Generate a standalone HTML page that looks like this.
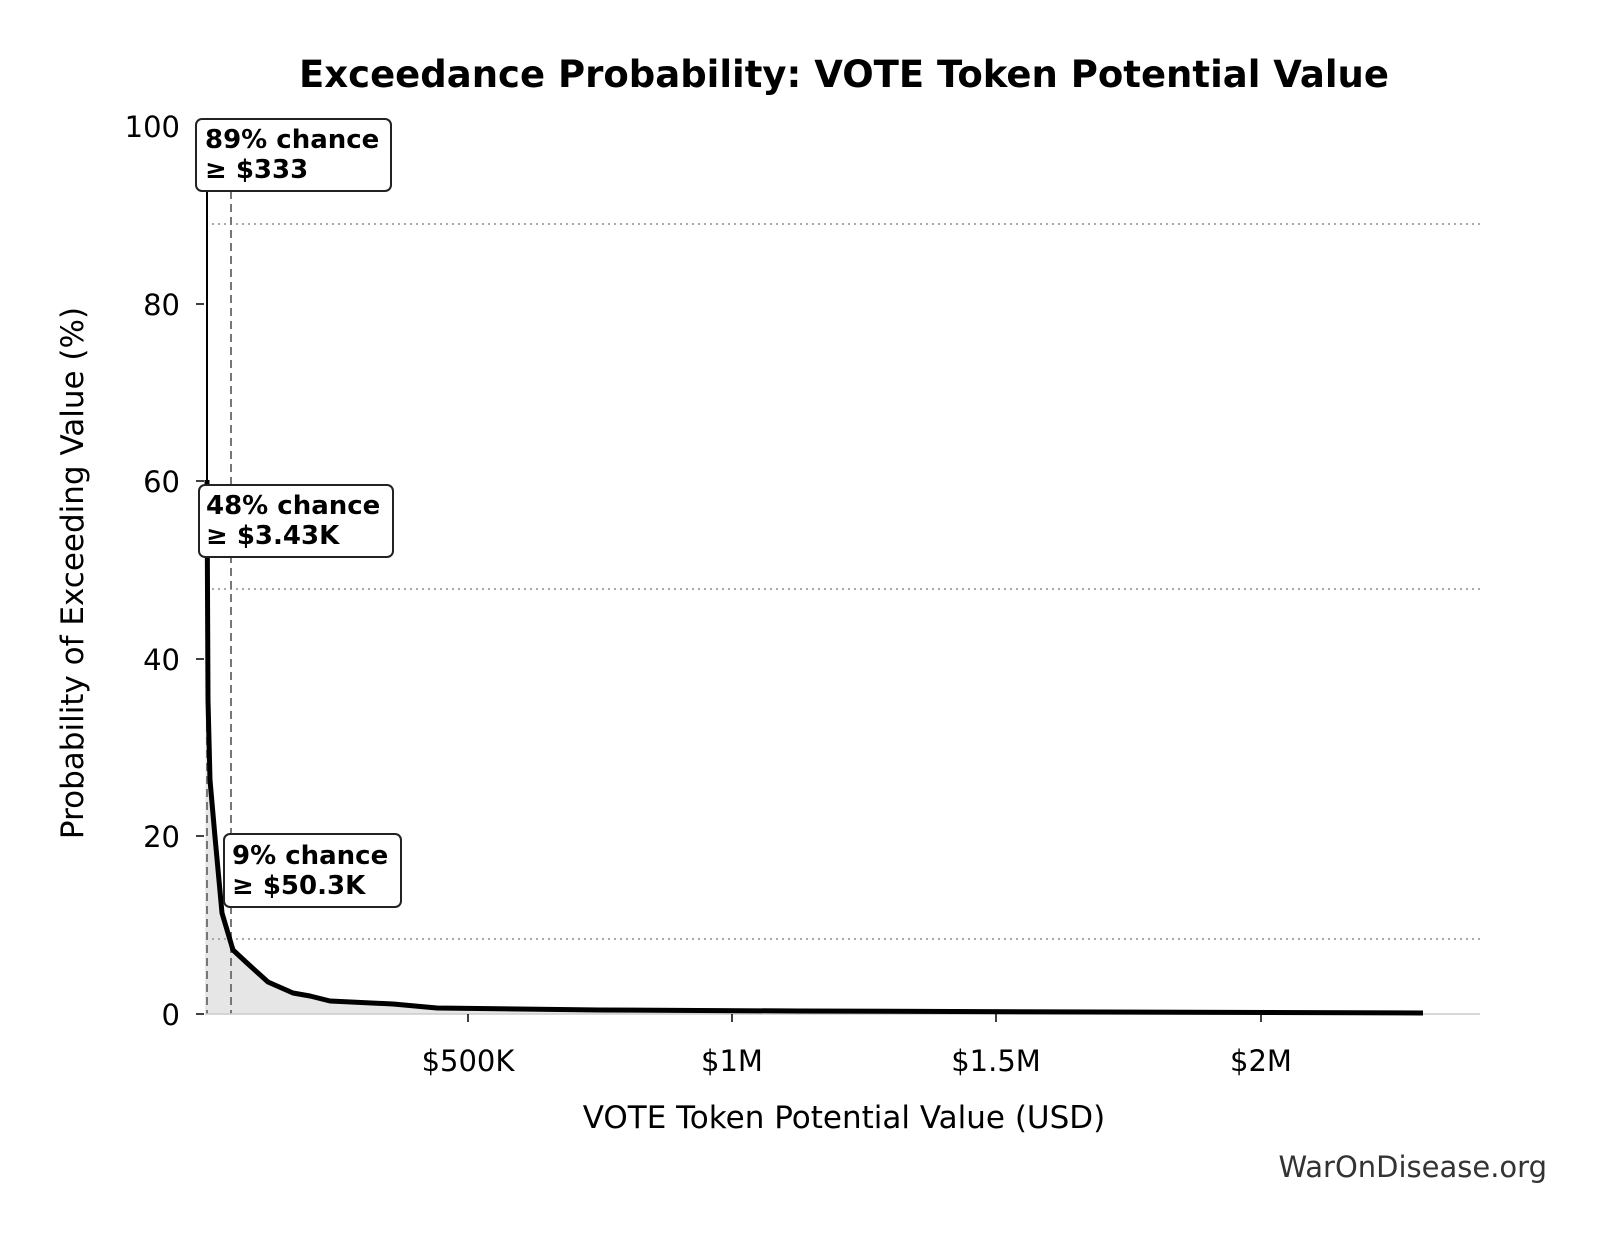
<!DOCTYPE html>
<html><head><meta charset="utf-8"><style>body{margin:0;background:#fff}</style></head><body>
<svg width="1604" height="1234" xmlns="http://www.w3.org/2000/svg" font-family="DejaVu Sans, Liberation Sans, sans-serif">
<rect width="1604" height="1234" fill="#fff"/>
<text x="844" y="87" font-size="37" font-weight="bold" text-anchor="middle">Exceedance Probability: VOTE Token Potential Value</text>
<path d="M207,126 L207,480 L208,700 L210,780 L215,837 L222,913 L233,950 L247,963 L268,982 L293,993 L310,996 L330,1001 L393,1004 L437,1008 L600,1010 L800,1011 L1423,1013 L1423,1014 L205,1014 Z" fill="#e6e6e6"/>
<g stroke="#aaa" stroke-width="2" stroke-dasharray="2,4">
<line x1="212" y1="224" x2="1480" y2="224"/><line x1="212" y1="589" x2="1480" y2="589"/><line x1="212" y1="939" x2="1480" y2="939"/></g>
<g stroke="#777" stroke-width="2" stroke-dasharray="8,5">
<line x1="207" y1="126" x2="207" y2="1014"/><line x1="231" y1="126" x2="231" y2="1014"/></g>
<line x1="205" y1="1014" x2="1480" y2="1014" stroke="#ccc" stroke-width="1.5"/>
<path d="M207,126 L207,480" stroke="#000" stroke-width="2" fill="none"/>
<path d="M207,480 L208,700 L210,780 L215,837 L222,913 L233,950 L247,963 L268,982 L293,993 L310,996 L330,1001 L393,1004 L437,1008 L600,1010 L800,1011 L1423,1013" stroke="#000" stroke-width="5" fill="none" stroke-linejoin="round"/>
<g stroke="#000" stroke-width="1.5">
<line x1="196" y1="1014" x2="204" y2="1014"/><line x1="196" y1="836" x2="204" y2="836"/><line x1="196" y1="659" x2="204" y2="659"/><line x1="196" y1="481" x2="204" y2="481"/><line x1="196" y1="304" x2="204" y2="304"/><line x1="196" y1="126" x2="204" y2="126"/>
<line x1="468" y1="1014" x2="468" y2="1022"/><line x1="732" y1="1014" x2="732" y2="1022"/><line x1="996" y1="1014" x2="996" y2="1022"/><line x1="1261" y1="1014" x2="1261" y2="1022"/></g>
<g font-size="29" text-anchor="end">
<text x="180" y="1025">0</text><text x="180" y="847">20</text><text x="180" y="670">40</text><text x="180" y="492">60</text><text x="180" y="315">80</text><text x="180" y="137">100</text></g>
<g font-size="29" text-anchor="middle">
<text x="468" y="1071">$500K</text><text x="732" y="1071">$1M</text><text x="996" y="1071">$1.5M</text><text x="1261" y="1071">$2M</text></g>
<text x="844" y="1128" font-size="31" text-anchor="middle">VOTE Token Potential Value (USD)</text>
<text transform="translate(83,573) rotate(-90)" font-size="31" text-anchor="middle">Probability of Exceeding Value (%)</text>
<text x="1547" y="1177" font-size="29" text-anchor="end" fill="#333">WarOnDisease.org</text>
<g stroke="#222" stroke-width="2" fill="#fff">
<rect x="196" y="119" width="195" height="72" rx="6"/>
<rect x="199" y="485" width="194" height="72" rx="6"/>
<rect x="224" y="834" width="177" height="73" rx="6"/></g>
<g font-size="26" font-weight="bold">
<text x="205" y="148">89% chance</text><text x="205" y="178">≥ $333</text>
<text x="206" y="514">48% chance</text><text x="206" y="544">≥ $3.43K</text>
<text x="232" y="864">9% chance</text><text x="232" y="894">≥ $50.3K</text></g>
</svg>
</body></html>
